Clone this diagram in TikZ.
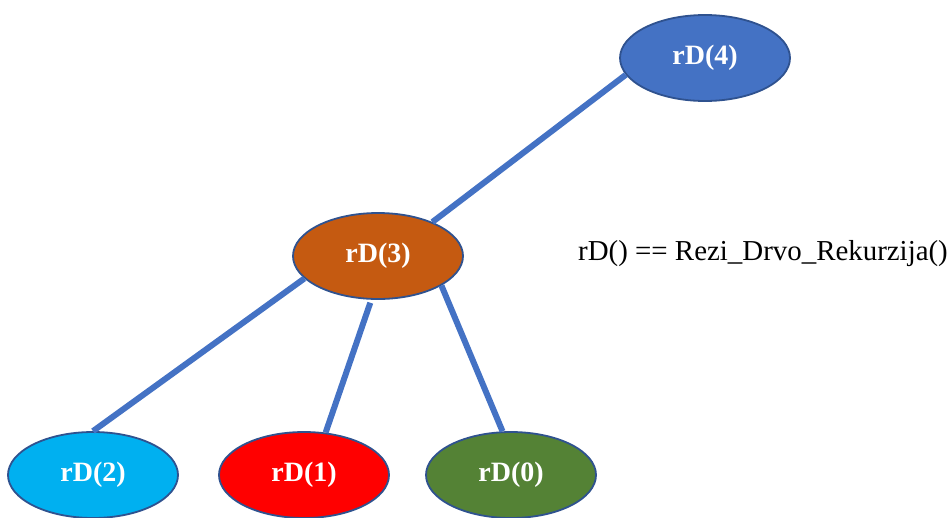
\documentclass[tikz,border=0pt]{standalone}
\usepackage{fontspec}
\setmainfont{Liberation Serif}
\usetikzlibrary{shapes.geometric}
\definecolor{cblue}{HTML}{4472C4}
\definecolor{corange}{HTML}{C55A11}
\definecolor{ccyan}{HTML}{00B0F0}
\definecolor{cred}{HTML}{FF0000}
\definecolor{cgreen}{HTML}{548235}
\definecolor{cborder}{HTML}{2F528F}
\tikzset{
  callnode/.style={ellipse, draw=cborder, line width=1.8pt, minimum width=170pt, minimum height=86pt,
    inner sep=0pt, text=white, font=\fontsize{28}{30}\selectfont\bfseries},
  edge/.style={draw=cblue, line width=6pt}
}
\begin{document}
\begin{tikzpicture}[x=1pt,y=-1pt]
\useasboundingbox (0,0) rectangle (952,517);
\node[callnode, fill=cblue] (n4) at (705,58) {rD(4)};
\node[callnode, fill=corange] (n3) at (378,256) {rD(3)};
\node[callnode, fill=ccyan] (n2) at (93,475) {rD(2)};
\node[callnode, fill=cred] (n1) at (304,475) {rD(1)};
\node[callnode, fill=cgreen] (n0) at (511,475) {rD(0)};
\draw[edge] (n4.192) -- (n3.32);
\draw[edge] (n3.197) -- (n2.90);
\draw[edge] ([yshift=-3pt]n3.260) -- (n1.63);
\draw[edge] (n3.335) -- (n0.101);
\node[anchor=west, inner sep=0pt, font=\fontsize{28.9}{30}\selectfont] (def) at (578,254) {rD() == Rezi\_Drvo\_Rekurzija()};
\end{tikzpicture}
\end{document}
